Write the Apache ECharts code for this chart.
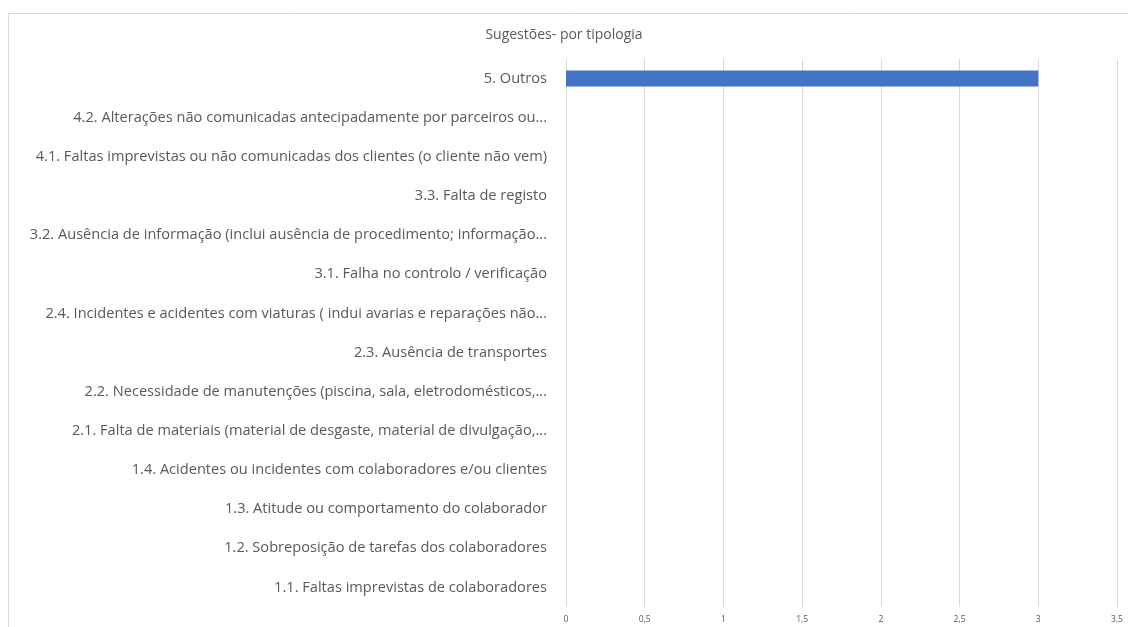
<!DOCTYPE html>
<html>
<head>
<meta charset="utf-8">
<script src="https://cdn.jsdelivr.net/npm/echarts@6/dist/echarts.min.js"></script>
<style>
  html, body { margin: 0; padding: 0; background: #fff; }
  #chart { width: 1128px; height: 627px; }
</style>
</head>
<body>
<div id="chart"></div>
<script>
// Typology categories, bottom to top
const categories = [
  '1.1. Faltas imprevistas de colaboradores',
  '1.2. Sobreposição de tarefas dos colaboradores',
  '1.3. Atitude ou comportamento do colaborador',
  '1.4. Acidentes ou incidentes com colaboradores e/ou clientes',
  '2.1. Falta de materiais (material de desgaste, material de divulgação,...',
  '2.2. Necessidade de manutenções (piscina, sala, eletrodomésticos,...',
  '2.3. Ausência de transportes',
  '2.4. Incidentes e acidentes com viaturas ( indui avarias e reparações não...',
  '3.1. Falha no controlo / verificação',
  '3.2. Ausência de informação (inclui ausência de procedimento; informação...',
  '3.3. Falta de registo',
  '4.1. Faltas imprevistas ou não comunicadas dos clientes (o cliente não vem)',
  '4.2. Alterações não comunicadas antecipadamente por parceiros ou...',
  '5. Outros'
];
// Number of suggestions per typology
const counts = [0, 0, 0, 0, 0, 0, 0, 0, 0, 0, 0, 0, 0, 3];
// Value axis range and step
const axisMin = 0;
const axisMax = 3.5;
const axisStep = 0.5;

const chart = echarts.init(document.getElementById('chart'));
chart.setOption({
  backgroundColor: '#ffffff',
  animation: false,
  graphic: [{
    type: 'rect',
    shape: { x: 8.5, y: 13.5, width: 1200, height: 700 },
    style: { fill: 'none', stroke: '#d9d9d9', lineWidth: 1 },
    silent: true
  }],
  title: {
    text: 'Sugestões- por tipologia',
    left: 'center',
    top: 23,
    textStyle: {
      fontFamily: 'Open Sans',
      fontSize: 14,
      fontWeight: 'normal',
      color: '#595959'
    }
  },
  grid: { left: 566, right: 11, top: 59, bottom: 20, containLabel: false },
  xAxis: {
    type: 'value',
    min: axisMin,
    max: axisMax,
    interval: axisStep,
    axisLine: { show: false },
    axisTick: { show: false },
    splitLine: { show: true, lineStyle: { color: '#d9d9d9', width: 1 } },
    axisLabel: {
      fontFamily: 'Open Sans',
      fontSize: 8.5,
      color: '#595959',
      margin: 8,
      formatter: v => String(v).replace('.', ',')
    }
  },
  yAxis: {
    type: 'category',
    data: categories,
    axisLine: { show: false },
    axisTick: { show: false },
    axisLabel: {
      fontFamily: 'Open Sans',
      fontSize: 14.6,
      color: '#595959',
      margin: 19
    }
  },
  series: [{
    type: 'bar',
    data: counts,
    barWidth: 16,
    itemStyle: { color: '#4472c4' }
  }]
});
</script>
</body>
</html>
